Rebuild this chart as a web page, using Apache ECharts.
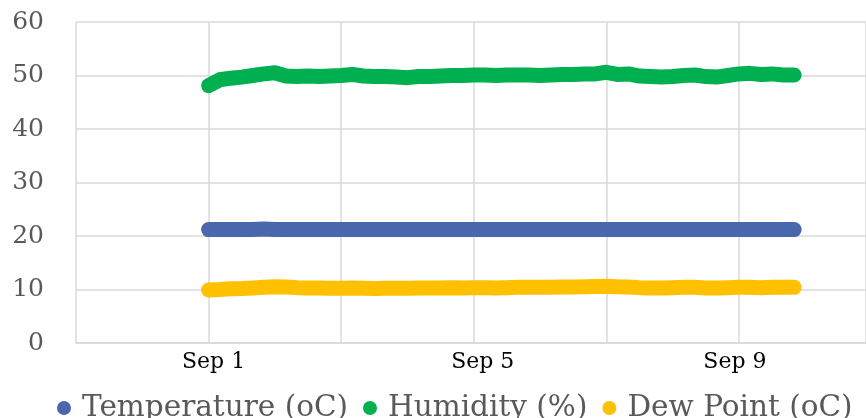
<!DOCTYPE html>
<html>
<head>
<meta charset="utf-8">
<script src="https://cdn.jsdelivr.net/npm/echarts@6/dist/echarts.min.js"></script>
<style>
  html, body { margin: 0; padding: 0; background: #fff; }
  #chart { width: 866px; height: 418px; }
</style>
</head>
<body>
<div id="chart"></div>
<script>
// Readings every 4 hours, starting Sep 1 00:00
const stepHours = 4;
const temperature = [
  21.2, 21.2, 21.2, 21.2, 21.2, 21.3, 21.2, 21.2, 21.2, 21.2,
  21.2, 21.2, 21.2, 21.2, 21.2, 21.2, 21.2, 21.2, 21.2, 21.2,
  21.2, 21.2, 21.2, 21.2, 21.2, 21.2, 21.2, 21.2, 21.2, 21.2,
  21.2, 21.2, 21.2, 21.2, 21.2, 21.2, 21.2, 21.2, 21.2, 21.2,
  21.2, 21.2, 21.2, 21.2, 21.2, 21.2, 21.2, 21.2, 21.2, 21.2,
  21.2, 21.2, 21.2, 21.2
];
const humidity = [
  48.1, 49.2, 49.5, 49.7, 50.0, 50.3, 50.5, 49.9, 49.8, 49.9,
  49.8, 49.9, 50.0, 50.2, 49.9, 49.8, 49.8, 49.7, 49.6, 49.8,
  49.8, 49.9, 50.0, 50.0, 50.1, 50.1, 50.0, 50.1, 50.1, 50.1,
  50.0, 50.1, 50.2, 50.2, 50.3, 50.3, 50.6, 50.2, 50.3, 49.9,
  49.8, 49.7, 49.8, 50.0, 50.1, 49.8, 49.7, 50.0, 50.3, 50.4,
  50.2, 50.3, 50.1, 50.1
];
const dewPoint = [
  9.9, 10.0, 10.15, 10.2, 10.3, 10.4, 10.5, 10.45, 10.35, 10.3,
  10.3, 10.25, 10.25, 10.3, 10.25, 10.2, 10.25, 10.25, 10.25, 10.3,
  10.3, 10.3, 10.35, 10.3, 10.35, 10.35, 10.3, 10.35, 10.4, 10.4,
  10.4, 10.4, 10.45, 10.45, 10.5, 10.55, 10.6, 10.5, 10.45, 10.35,
  10.3, 10.3, 10.35, 10.4, 10.4, 10.3, 10.3, 10.35, 10.4, 10.4,
  10.35, 10.4, 10.4, 10.4
];
const seriesNames = ['Temperature (oC)', 'Humidity (%)', 'Dew Point (oC)'];
const seriesColors = ['#4a67ad', '#00b050', '#ffc000'];
// x axis labels, keyed by hours since Sep 1 00:00
const dateLabels = { 0: 'Sep 1', 96: 'Sep 5', 192: 'Sep 9' };
// rich-text style per label, nudging each date under its tick
const labelStyleKey = { 0: 'd1', 96: 'd5', 192: 'd9' };

const pairs = arr => arr.map((v, i) => [i * stepHours, v]);
const serif = '"DejaVu Serif", serif';
const dateText = { fontFamily: serif, fontSize: 22, color: '#000' };

const chart = echarts.init(document.getElementById('chart'), null, { renderer: 'canvas' });
chart.setOption({
  animation: false,
  grid: { left: 76, right: 0, top: 22, bottom: 75, containLabel: false },
  legend: {
    data: seriesNames.map(n => ({ name: n, icon: 'circle' })),
    left: 52,
    top: 388,
    itemWidth: 26,
    itemHeight: 14,
    itemGap: 15,
    textStyle: { fontFamily: serif, fontSize: 29.5, color: '#595959' }
  },
  xAxis: {
    type: 'value',
    min: -48,
    max: 238,
    interval: 48,
    axisLine: { show: true, lineStyle: { color: '#d9d9d9', width: 1.5 } },
    axisTick: { show: false },
    splitLine: { show: true, lineStyle: { color: '#d9d9d9', width: 1.5 } },
    axisLabel: {
      fontFamily: serif, fontSize: 22, color: '#000', margin: 8,
      showMaxLabel: false, showMinLabel: false,
      formatter: v => dateLabels[v] ? '{' + labelStyleKey[v] + '|' + dateLabels[v] + '}' : '',
      rich: {
        d1: Object.assign({ padding: [0, 0, 0, 10] }, dateText),
        d5: Object.assign({ padding: [0, 0, 0, 18] }, dateText),
        d9: Object.assign({ padding: [0, 8, 0, 0] }, dateText)
      }
    }
  },
  yAxis: {
    type: 'value',
    min: 0,
    max: 60,
    interval: 10,
    axisLine: { show: false },
    axisTick: { show: false },
    splitLine: { lineStyle: { color: '#d9d9d9', width: 1.5 } },
    axisLabel: { fontFamily: serif, fontSize: 25, color: '#595959', margin: 32 }
  },
  series: [temperature, humidity, dewPoint].map((arr, i) => ({
    name: seriesNames[i],
    type: 'line',
    data: pairs(arr),
    showSymbol: false,
    smooth: false,
    color: seriesColors[i],
    lineStyle: { width: 15, cap: 'round', join: 'round', color: seriesColors[i] }
  }))
});
</script>
</body>
</html>
